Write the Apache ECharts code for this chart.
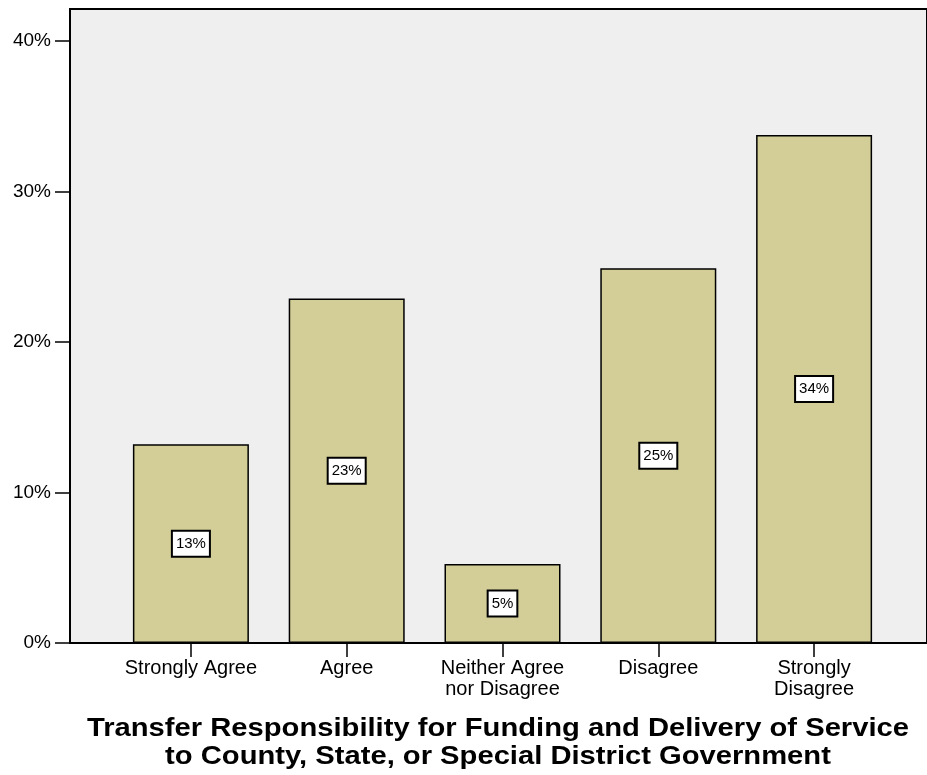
<!DOCTYPE html>
<html>
<head>
<meta charset="utf-8">
<script src="https://cdn.jsdelivr.net/npm/echarts@6/dist/echarts.min.js"></script>
<style>
  html, body { margin: 0; padding: 0; background: #ffffff; }
  #chart { width: 927px; height: 775px; }
</style>
</head>
<body>
<div id="chart"></div>
<script>
// Survey responses (percent of respondents)
const categories = ['Strongly Agree', 'Agree', 'Neither Agree\nnor Disagree', 'Disagree', 'Strongly\nDisagree'];
const percents = [13.2, 22.9, 5.25, 24.9, 33.75];
const yTicks = [0, 10, 20, 30, 40];
const yMax = 42.13;
const titleLines = [
  'Transfer Responsibility for Funding and Delivery of Service',
  'to County, State, or Special District Government'
];

const FONT = 'Liberation Sans, Arial, Helvetica, sans-serif';
const chart = echarts.init(document.getElementById('chart'), null, { renderer: 'canvas' });

// Bold caption in two centred lines, widened uniformly so the first line spans 822px
const titleFont = 'bold 26px ' + FONT;
const firstLineWidth = echarts.format.getTextRect
  ? echarts.format.getTextRect(titleLines[0], titleFont).width : 0;
const titleScale = firstLineWidth > 0 ? 822 / firstLineWidth : 1.12;
const titleGraphics = titleLines.map((line, i) => ({
  type: 'text',
  x: 498,
  y: 729 + i * 28,
  scaleX: titleScale,
  style: {
    text: line,
    font: titleFont,
    fill: '#000',
    textAlign: 'center',
    textVerticalAlign: 'middle'
  }
}));

chart.setOption({
  animation: false,
  backgroundColor: '#ffffff',
  graphic: titleGraphics,
  grid: [
    // framed plotting panel (its right edge runs past the page)
    { left: 70, top: 9, width: 865, height: 634, show: true, backgroundColor: '#efefef',
      borderColor: '#000', borderWidth: 2, containLabel: false },
    // bar placement area
    { left: 113, top: 9, width: 779, height: 634, containLabel: false }
  ],
  xAxis: [
    { gridIndex: 0, type: 'value', min: 0, max: 1, show: false },
    { gridIndex: 1, type: 'category', data: categories,
      axisLine: { show: false },
      axisTick: { show: true, alignWithLabel: true, length: 14, lineStyle: { color: '#000', width: 1.5 } },
      axisLabel: { margin: 15, fontFamily: FONT, fontSize: 20, color: '#000', lineHeight: 21, interval: 0 }
    }
  ],
  yAxis: [
    { gridIndex: 0, type: 'value', min: 0, max: yMax, interval: 10,
      axisLine: { show: true, lineStyle: { color: '#000', width: 2 } },
      axisTick: { show: true, length: 15, customValues: yTicks, lineStyle: { color: '#000', width: 1.5 } },
      splitLine: { show: false },
      axisLabel: {
        margin: 19, fontFamily: FONT, fontSize: 19, color: '#000',
        customValues: yTicks,
        formatter: v => v + '%'
      }
    },
    { gridIndex: 1, type: 'value', min: 0, max: yMax, show: false }
  ],
  series: [{
    type: 'bar',
    xAxisIndex: 1,
    yAxisIndex: 1,
    data: percents,
    barWidth: 116,
    itemStyle: { color: '#d3ce97', borderColor: '#000', borderWidth: 1.5 },
    label: {
      show: true,
      position: 'inside',
      formatter: p => Math.round(p.value) + '%',
      fontFamily: FONT,
      fontSize: 15,
      color: '#000',
      backgroundColor: '#ffffff',
      borderColor: '#000',
      borderWidth: 2,
      padding: [5, 3, 4, 3]
    }
  }]
});
</script>
</body>
</html>
